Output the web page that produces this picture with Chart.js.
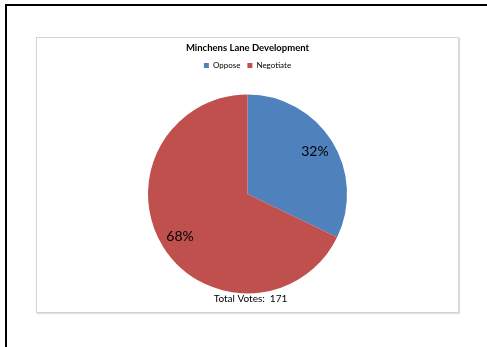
<!DOCTYPE html>
<html>
<head>
<meta charset="utf-8">
<title>Minchens Lane Development</title>
<script src="https://cdn.jsdelivr.net/npm/chart.js@4/dist/chart.umd.min.js"></script>
<style>
  html, body { margin: 0; padding: 0; background: #fff; overflow: hidden; }
  body { width: 487px; height: 347px; position: relative; }
  .sheet {
    position: absolute; left: 5px; top: 4px; width: 490px; height: 350px;
    border-top: 2px solid #000; border-left: 2px solid #000;
  }
  .frame {
    position: absolute; left: 36px; top: 37px; width: 421px; height: 274px;
    border: 1px solid #d4d4d4;
    box-shadow: 1px 1px 1px rgba(0, 0, 0, 0.12);
    background: #fff;
  }
  .frame canvas { display: block; }
</style>
</head>
<body>
<div class="sheet"></div>
<div class="frame"><canvas id="voteChart" width="421" height="274"></canvas></div>

<script>
// Vote counts
const categories = ["Oppose", "Negotiate"]
const votes = [55, 116]
const sliceColors = ["#4F81BD", "#C0504D"]
const chartTitle = "Minchens Lane Development"

const totalVotes = votes.reduce((sum, v) => sum + v, 0)
const fontFamily = "Lato, 'Open Sans', sans-serif"

// Percent labels inside each slice
const percentLabels = {
  id: "percentLabels",
  afterDatasetsDraw(chart) {
    const { ctx } = chart
    const meta = chart.getDatasetMeta(0)
    ctx.save()
    ctx.font = "14px " + fontFamily
    ctx.fillStyle = "#000"
    ctx.textAlign = "center"
    ctx.textBaseline = "middle"
    meta.data.forEach((arc, i) => {
      const { x, y, startAngle, endAngle, outerRadius } = arc.getProps(["x", "y", "startAngle", "endAngle", "outerRadius"], true)
      const mid = (startAngle + endAngle) / 2
      const r = outerRadius * 0.8
      const pct = Math.round((votes[i] / totalVotes) * 100) + "%"
      ctx.fillText(pct, x + Math.cos(mid) * r, y + Math.sin(mid) * r)
    })
    ctx.restore()
  },
}

// Total line under the pie
const totalLine = {
  id: "totalLine",
  afterDraw(chart) {
    const { ctx, chartArea } = chart
    ctx.save()
    ctx.font = "10px " + fontFamily
    ctx.fillStyle = "#000"
    ctx.textAlign = "center"
    ctx.textBaseline = "middle"
    ctx.fillText("Total Votes:  " + totalVotes, (chartArea.left + chartArea.right) / 2 + 3, 261)
    ctx.restore()
  },
}

document.addEventListener("DOMContentLoaded", () => {
  new Chart(document.getElementById("voteChart"), {
    type: "pie",
    data: {
      labels: categories,
      datasets: [
        {
          data: votes,
          backgroundColor: sliceColors,
          borderWidth: 0,
          radius: 99.5,
        },
      ],
    },
    options: {
      responsive: false,
      maintainAspectRatio: false,
      animation: false,
      layout: { padding: { top: 0, bottom: 3.4, left: 0, right: 0 } },
      plugins: {
        title: {
          display: true,
          text: chartTitle,
          color: "#000",
          font: { family: fontFamily, size: 9.5, weight: "bold", lineHeight: 1.2 },
          padding: { top: 4, bottom: 1 },
        },
        legend: {
          position: "top",
          labels: {
            boxWidth: 5,
            boxHeight: 5,
            padding: 7,
            color: "#000",
            font: { family: fontFamily, size: 8 },
          },
        },
        tooltip: { enabled: false },
      },
    },
    plugins: [percentLabels, totalLine],
  })
})
</script>
</body>
</html>
